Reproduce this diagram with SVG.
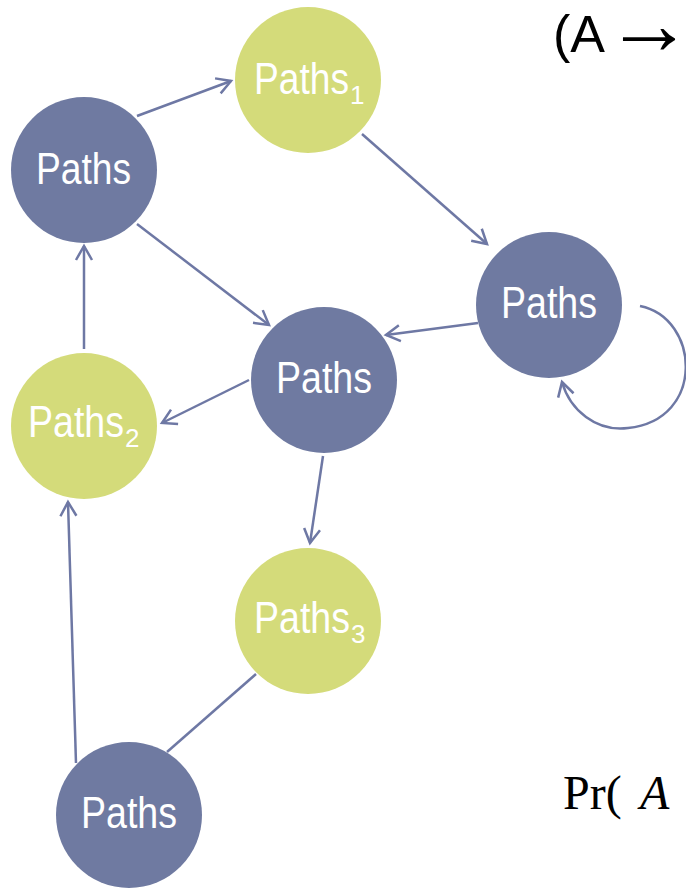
<svg xmlns="http://www.w3.org/2000/svg" width="686" height="888" viewBox="0 0 686 888">
<defs>
<style>
.blue{fill:#6f7aa1}
.green{fill:#d4db7a}
.lbl{fill:#ffffff;font-family:"Liberation Sans Narrow","Liberation Sans",Arial,sans-serif;font-size:44px}
.sub{fill:#ffffff;font-family:"Liberation Sans Narrow","Liberation Sans",Arial,sans-serif;font-size:26px}
.edge{stroke:#6e78a4;stroke-width:2.5;fill:none}
.arr{marker-end:url(#ah)}
</style>
<marker id="ah" markerUnits="userSpaceOnUse" markerWidth="20" markerHeight="20" viewBox="0 0 20 20" refX="16" refY="10" orient="auto">
<path d="M2,2 L16,10 L2,18" fill="none" stroke="#6e78a4" stroke-width="2.5"/>
</marker>
</defs>
<rect width="686" height="888" fill="#ffffff"/>
<g id="connectors">
<line class="edge arr" x1="137" y1="116" x2="231" y2="81"/>
<line class="edge arr" x1="362" y1="134" x2="487" y2="244"/>
<line class="edge arr" x1="137" y1="224" x2="269" y2="325"/>
<line class="edge arr" x1="84" y1="349" x2="84" y2="246"/>
<line class="edge arr" x1="478" y1="323" x2="386" y2="335"/>
<line class="edge arr" x1="249" y1="380" x2="162" y2="423"/>
<line class="edge arr" x1="323" y1="456" x2="310" y2="543"/>
<line class="edge arr" x1="76" y1="763" x2="68" y2="502"/>
<line class="edge" x1="167" y1="752" x2="256" y2="674"/>
<path class="edge arr" d="M640,306 C700,318 706,420 628,428 C596,432 570,410 562,382"/>
</g>
<g id="node-a"><circle class="blue" cx="84" cy="170" r="73"/><text class="lbl" x="36" y="184" textLength="95" lengthAdjust="spacingAndGlyphs">Paths</text></g>
<g id="node-p1"><circle class="green" cx="308" cy="80" r="73"/><text class="lbl" x="254" y="94" textLength="95" lengthAdjust="spacingAndGlyphs">Paths</text><text class="sub" x="350" y="104">1</text></g>
<g id="node-b"><circle class="blue" cx="549" cy="305" r="73"/><text class="lbl" x="501" y="318" textLength="96" lengthAdjust="spacingAndGlyphs">Paths</text></g>
<g id="node-c"><circle class="blue" cx="324" cy="380" r="73"/><text class="lbl" x="276" y="393" textLength="96" lengthAdjust="spacingAndGlyphs">Paths</text></g>
<g id="node-p2"><circle class="green" cx="84" cy="426" r="73"/><text class="lbl" x="28" y="437" textLength="96" lengthAdjust="spacingAndGlyphs">Paths</text><text class="sub" x="125" y="447">2</text></g>
<g id="node-p3"><circle class="green" cx="308" cy="621" r="73"/><text class="lbl" x="254" y="633" textLength="96" lengthAdjust="spacingAndGlyphs">Paths</text><text class="sub" x="351" y="643">3</text></g>
<g id="node-d"><circle class="blue" cx="129" cy="815" r="73"/><text class="lbl" x="81" y="828" textLength="96" lengthAdjust="spacingAndGlyphs">Paths</text></g>
<text x="553" y="52" font-family="'Liberation Sans',Arial,sans-serif" font-size="52" fill="#000">(A <tspan x="605" y="54" font-size="88">→</tspan></text>
<text x="563" y="809" font-family="'Liberation Serif','Times New Roman',serif" font-size="48" fill="#000">Pr( <tspan x="640" font-style="italic">A</tspan></text>
</svg>
